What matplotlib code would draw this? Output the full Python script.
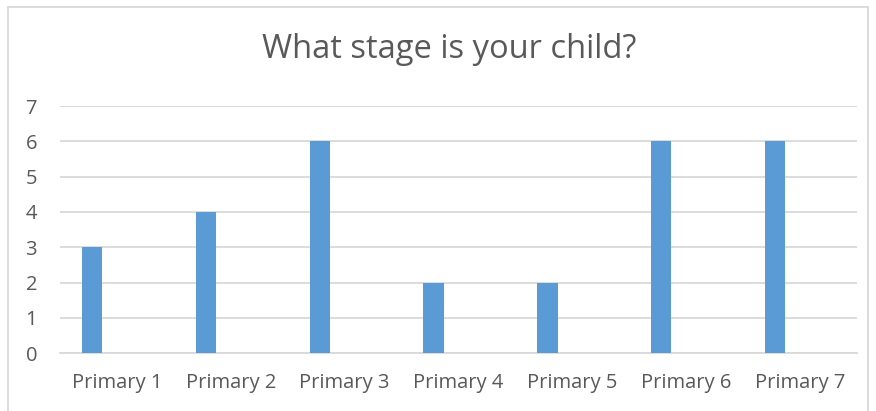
import matplotlib.pyplot as plt
import numpy as np
from matplotlib.patches import Rectangle

categories = ["Primary 1", "Primary 2", "Primary 3", "Primary 4",
              "Primary 5", "Primary 6", "Primary 7"]
counts = [3, 4, 6, 2, 2, 6, 6]
y_ticks = [0, 1, 2, 3, 4, 5, 6, 7]

plt.rcParams["font.family"] = ["Open Sans", "DejaVu Sans"]
text_color = "#595959"
grid_color = "#d9d9d9"

fig = plt.figure(figsize=(8.76, 4.11), dpi=100)
W, H = 876, 411
# plot area in pixels: x 60..857, y 106..353
ax = fig.add_axes([60 / W, 1 - 353.3 / H, 797 / W, (353.3 - 106) / H])

x = np.arange(len(categories))
ax.bar(x - 0.219, counts, width=0.178, color="#5b9bd5", zorder=3)

ax.set_xlim(-0.5, len(categories) - 0.5)
ax.set_ylim(0, 7)
ax.set_yticks(y_ticks)
ax.set_xticks(x)
ax.set_xticklabels(categories)
ax.grid(axis="y", color=grid_color, linewidth=1.3, zorder=0)
for side in ["top", "right", "left"]:
    ax.spines[side].set_visible(False)
ax.spines["bottom"].set_color(grid_color)
ax.spines["bottom"].set_linewidth(1.3)
ax.tick_params(length=0, colors=text_color, labelsize=14.5)
ax.tick_params(axis="y", pad=16.5)
ax.tick_params(axis="x", pad=14.5)

fig.text(449 / W, 1 - 50 / H, "What stage is your child?", ha="center",
         va="center", fontsize=23.5, color=text_color)

# chart border
fig.patches.append(Rectangle((8 / W, -0.05), (868 - 8) / W, 1.05 - 7 / H,
                             transform=fig.transFigure, fill=False,
                             edgecolor="#d9d9d9", linewidth=1.3))

fig.savefig("out.png", dpi=100)
